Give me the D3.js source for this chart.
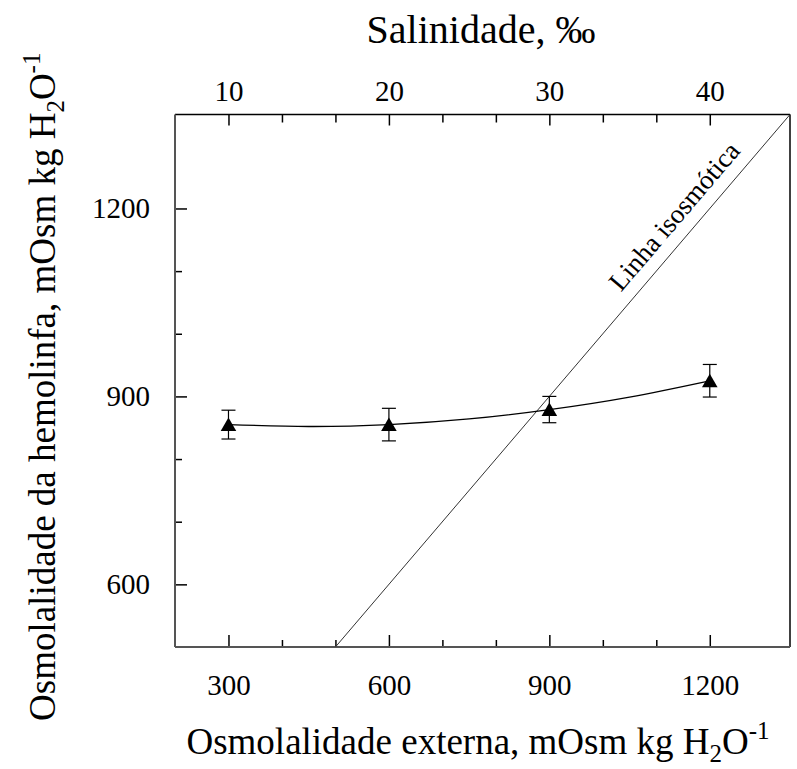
<!DOCTYPE html>
<html>
<head>
<meta charset="utf-8">
<script src="https://cdn.jsdelivr.net/npm/d3@7"></script>
<style>
  body { margin: 0; background: #fff; }
  svg text { font-family: "Liberation Serif", "Times New Roman", serif; fill: #000; }
</style>
</head>
<body>
<div id="chart"></div>
<script>
// Data
const extOsm = [300, 600, 900, 1200];          // external osmolality, mOsm kg H2O-1
const hemoOsm = [855, 855, 879, 925];          // haemolymph osmolality
const hemoErr = [23, 26, 21, 26];              // error bar half-length
const fitX = [300, 450, 600, 750, 900, 1050, 1200];
const fitY = [855, 852, 855, 864, 879, 899, 925];
const isoLine = [500, 1350];                   // isosmotic line y = x

const bottomTicks = [300, 400, 500, 600, 700, 800, 900, 1000, 1100, 1200];
const bottomLabels = [300, 600, 900, 1200];
const leftTicks = [600, 700, 800, 900, 1000, 1100, 1200];
const leftLabels = [600, 900, 1200];
const salinityLabels = [10, 20, 30, 40];
const osmPerPpt = 30;

const W = 797, H = 769;
const plot = {left: 175, right: 790, top: 114.5, bottom: 647};

const svg = d3.select('#chart').append('svg')
  .attr('width', W)
  .attr('height', H);

const x = d3.scaleLinear().domain([200, 1350]).range([plot.left, plot.right]);
const y = d3.scaleLinear().domain([500, 1350]).range([plot.bottom, plot.top]);
const xTop = d3.scaleLinear().domain([200 / osmPerPpt, 1350 / osmPerPpt]).range([plot.left, plot.right]);
const fmt = d3.format('d');

// bottom axis: minor ticks, then major ticks with labels
svg.append('g')
  .attr('transform', `translate(0,${plot.bottom})`)
  .call(d3.axisBottom(x).tickValues(bottomTicks.filter(d => !bottomLabels.includes(d))).tickSize(-7).tickFormat(''))
  .call(g => g.select('.domain').remove());
svg.append('g')
  .attr('class', 'x-axis')
  .attr('transform', `translate(0,${plot.bottom})`)
  .call(d3.axisBottom(x).tickValues(bottomLabels).tickSize(-12).tickPadding(27).tickFormat(fmt))
  .call(g => g.select('.domain').remove());

// left axis
svg.append('g')
  .attr('transform', `translate(${plot.left},0)`)
  .call(d3.axisLeft(y).tickValues(leftTicks.filter(d => !leftLabels.includes(d))).tickSize(-7).tickFormat(''))
  .call(g => g.select('.domain').remove());
svg.append('g')
  .attr('class', 'y-axis')
  .attr('transform', `translate(${plot.left},0)`)
  .call(d3.axisLeft(y).tickValues(leftLabels).tickSize(-12).tickPadding(25).tickFormat(fmt))
  .call(g => g.select('.domain').remove());

// top axis (salinity)
svg.append('g')
  .attr('transform', `translate(0,${plot.top})`)
  .call(d3.axisTop(xTop).tickValues(bottomTicks.filter(d => !bottomLabels.includes(d)).map(d => d / osmPerPpt)).tickSize(-8).tickFormat(''))
  .call(g => g.select('.domain').remove());
svg.append('g')
  .attr('transform', `translate(0,${plot.top})`)
  .call(d3.axisTop(xTop).tickValues(salinityLabels).tickSize(-11).tickPadding(14).tickFormat(fmt))
  .call(g => g.select('.domain').remove());

svg.selectAll('.tick line').attr('stroke', '#000').attr('stroke-width', 1.5);
svg.selectAll('.tick text').style('font-size', '29px').style('font-family', '"Liberation Serif", serif');

// frame
svg.append('line').attr('x1', plot.left).attr('x2', plot.right).attr('y1', plot.top).attr('y2', plot.top)
  .attr('stroke', '#000').attr('stroke-width', 1.5);
svg.append('line').attr('x1', plot.right).attr('x2', plot.right).attr('y1', plot.top).attr('y2', plot.bottom)
  .attr('stroke', '#000').attr('stroke-width', 1.5);
svg.append('line').attr('x1', plot.left).attr('x2', plot.left).attr('y1', plot.top).attr('y2', plot.bottom)
  .attr('stroke', '#555').attr('stroke-width', 2);
svg.append('line').attr('x1', plot.left).attr('x2', plot.right).attr('y1', plot.bottom).attr('y2', plot.bottom)
  .attr('stroke', '#555').attr('stroke-width', 2);

// isosmotic line
svg.append('line')
  .attr('x1', x(isoLine[0])).attr('y1', y(isoLine[0]))
  .attr('x2', x(isoLine[1])).attr('y2', y(isoLine[1]))
  .attr('stroke', '#333').attr('stroke-width', 1);

const angle = Math.atan((y(isoLine[0]) - y(isoLine[1])) / (x(isoLine[1]) - x(isoLine[0]))) * 180 / Math.PI;
svg.append('text')
  .attr('transform', `translate(${x(1165)},${y(1165)}) rotate(${-angle})`)
  .attr('text-anchor', 'middle')
  .attr('dy', -13)
  .style('font-size', '27px')
  .text('Linha isosmótica');

// fitted curve
const pts = fitX.map((d, i) => [x(d), y(fitY[i])]);
svg.append('path')
  .attr('d', d3.line().curve(d3.curveNatural)(pts))
  .attr('fill', 'none')
  .attr('stroke', '#000')
  .attr('stroke-width', 1.3);

// error bars
const capW = 7;
const errG = svg.append('g');
extOsm.forEach((d, i) => {
  const cx = x(d);
  const y1 = y(hemoOsm[i] + hemoErr[i]), y2 = y(hemoOsm[i] - hemoErr[i]);
  errG.append('line').attr('x1', cx).attr('x2', cx).attr('y1', y1).attr('y2', y2);
  errG.append('line').attr('x1', cx - capW).attr('x2', cx + capW).attr('y1', y1).attr('y2', y1);
  errG.append('line').attr('x1', cx - capW).attr('x2', cx + capW).attr('y1', y2).attr('y2', y2);
});
errG.selectAll('line').attr('stroke', '#000').attr('stroke-width', 1.2);

// markers
svg.selectAll('path.marker')
  .data(extOsm)
  .enter()
  .append('path')
  .attr('class', 'marker')
  .attr('d', d3.symbol().type(d3.symbolTriangle).size(105))
  .attr('transform', (d, i) => `translate(${x(d)},${y(hemoOsm[i]) + 2})`)
  .attr('fill', '#000');

// axis titles
const xt = svg.append('text')
  .attr('x', 478)
  .attr('y', 754)
  .attr('text-anchor', 'middle')
  .style('font-size', '37px');
xt.append('tspan').text('Osmolalidade externa, mOsm kg H');
xt.append('tspan').attr('dy', 8).style('font-size', '25px').text('2');
xt.append('tspan').attr('dy', -8).text('O');
xt.append('tspan').attr('dy', -15).style('font-size', '25px').text('-1');

const yt = svg.append('text')
  .attr('transform', `translate(55,${(plot.top + plot.bottom) / 2 + 6}) rotate(-90)`)
  .attr('text-anchor', 'middle')
  .style('font-size', '37px');
yt.append('tspan').text('Osmolalidade da hemolinfa, mOsm kg H');
yt.append('tspan').attr('dy', 9).style('font-size', '25px').text('2');
yt.append('tspan').attr('dy', -9).text('O');
yt.append('tspan').attr('dy', -15).style('font-size', '25px').text('-1');

svg.append('text')
  .attr('x', 481)
  .attr('y', 43)
  .attr('text-anchor', 'middle')
  .style('font-size', '40px')
  .text('Salinidade, ‰');
</script>
</body>
</html>
